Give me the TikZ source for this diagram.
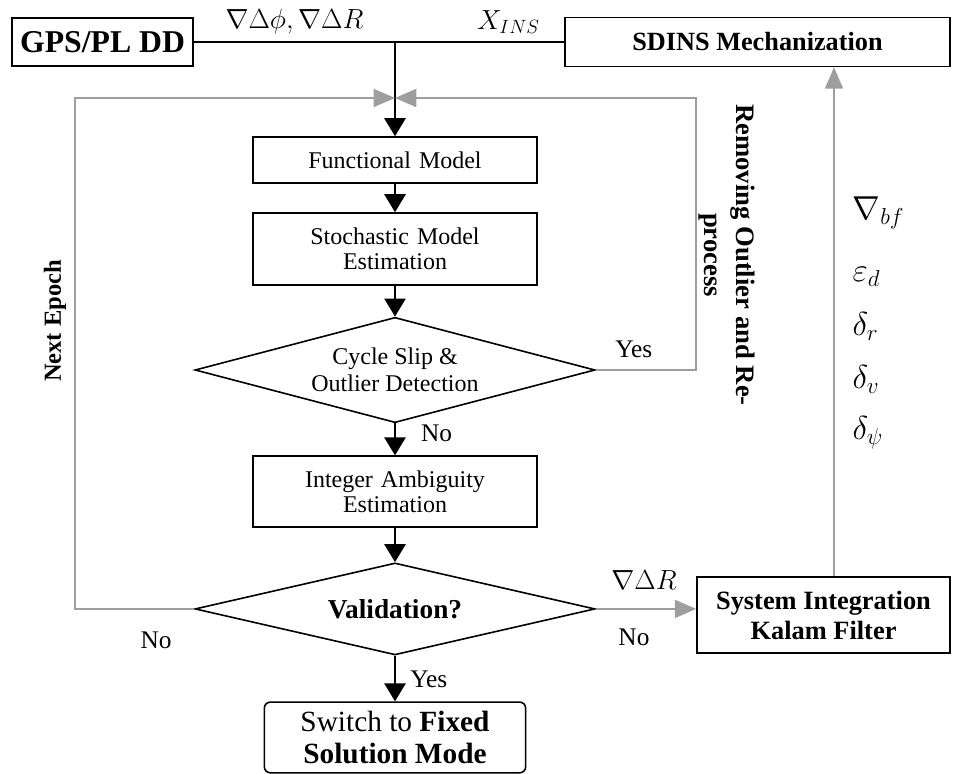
\documentclass[tikz,border=0pt]{standalone}
\usepackage{fontspec}
\setmainfont{Liberation Serif}
\usetikzlibrary{shapes, arrows.meta, positioning}

\definecolor{loopgray}{RGB}{158,158,158}

\tikzset{
	line/.style={draw, line width=1.2pt},
	arr/.style={line, -{Triangle[length=13.5pt,width=16pt]}},
	garr/.style={draw=loopgray, line width=1.3pt, -{Triangle[length=16pt,width=13.5pt]}},
	gline/.style={draw=loopgray, line width=1.3pt},
	block/.style={draw, line width=1.2pt, minimum width=213pt, minimum height=34.5pt,
		text width=200pt, align=center, font=\fontsize{18}{19}\selectfont},
	decision/.style={diamond, draw, line width=1.2pt, aspect=3.8, inner sep=0pt,
		minimum width=300pt, align=center, font=\fontsize{18}{20}\selectfont},
	term/.style={draw, line width=1.2pt, rounded corners=4.5pt, minimum width=196pt,
		minimum height=53pt, align=center, font=\fontsize{22}{24}\selectfont},
	lbl/.style={font=\fontsize{19}{22}\selectfont, inner sep=1pt},
	mlbl/.style={font=\fontsize{20}{24}\selectfont, inner sep=1pt},
	elbl/.style={font=\fontsize{23}{26}\selectfont, inner sep=1pt, anchor=west}
}

\begin{document}
\begin{tikzpicture}[x=0.75pt, y=-0.75pt, node distance=2cm, on grid]
		\useasboundingbox (0,0) rectangle (954,774);
		% main column
		\node[block] (fm) at (395,160) {Functional Model};
		\node[block, minimum height=54pt] (sm) [below=66.75pt of fm] {Stochastic Model\\Estimation};
		\node[decision, minimum height=79pt] (cs) [below=90.75pt of sm] {Cycle Slip \&\\Outlier Detection};
		\node[block, minimum height=53pt] (ia) [below=91.1pt of cs] {Integer Ambiguity\\Estimation};
		\node[decision, minimum height=69pt, font=\fontsize{20.5}{22}\selectfont\bfseries] (val) [below=88.1pt of ia] {Validation?};
		\node[term] (sw) [below=96.4pt of val] {Switch to \textbf{Fixed}\\\textbf{Solution Mode}};
		% side boxes
		\node[draw, line width=1.2pt, minimum width=136pt, minimum height=36pt,
			font=\fontsize{23.8}{26}\selectfont\bfseries] (gps) at (102.5,42) {GPS/PL DD};
		\node[draw, line width=1.2pt, minimum width=288.75pt, minimum height=36.75pt,
			font=\fontsize{19.7}{22}\selectfont\bfseries] (sdins) at (757.5,42) {SDINS Mechanization};
		\node[draw, line width=1.2pt, minimum width=189.75pt, minimum height=57pt, align=center,
			font=\fontsize{19.8}{22.5}\selectfont\bfseries] (sikf) at (823.5,615) {System Integration\\Kalam Filter};
		% loop corners
		\coordinate (jn) at (fm.north |- gps.east);
		\coordinate (nl) at (75,98);
		\coordinate (nr) at (696,98);
		\coordinate (mt) at (fm.north |- nl);
		% black flow
		\path[line] (gps.east) -- node[mlbl, above=4.5pt, midway] {$\nabla\Delta\phi,\nabla\Delta R$} (jn)
			-- node[mlbl, above=4.5pt, pos=0.67] {$X_{INS}$} (sdins.west);
		\draw[arr] (jn) -- (fm.north);
		\draw[arr] (fm) -- (sm);
		\draw[arr] (sm) -- (cs);
		\draw[arr] (cs) -- node[lbl, right=18pt, pos=0.31] {No} (ia);
		\draw[arr] (ia) -- (val);
		\draw[arr] (val) -- node[lbl, right=10pt, pos=0.51] {Yes} (sw);
		% grey loops
		\draw[garr] (val.west) -- node[lbl, below=15.5pt, pos=0.32] {No} (val.west -| nl) -- (nl) -- (mt);
		\draw[garr] (cs.east) -- node[lbl, above=7.5pt, pos=0.38] {Yes} (cs.east -| nr) -- (nr) -- (mt);
		\draw[garr] (val.east) -- node[mlbl, above=13pt, pos=0.48] {$\nabla\Delta R$}
			node[lbl, below=13.5pt, pos=0.38] {No} (val.east -| sikf.west);
		\draw[garr] ([xshift=7.9pt]sikf.north) -- ([xshift=7.9pt]sikf.north |- sdins.south);
		% rotated texts
		\node[rotate=90, font=\fontsize{18.4}{22}\selectfont\bfseries] (ne) at (55,321) {Next Epoch};
		\node[rotate=-90, align=center, font=\fontsize{20}{24}\selectfont\bfseries] (ro) at (727,255)
			{Removing Outlier and Re-\\process};
		% error states
		\node[elbl] (bf) at (851,213) {$\nabla_{bf}$};
		\node[elbl] (ed) at (851,277) {$\varepsilon_{d}$};
		\node[elbl] (dr) at (851,326) {$\delta_{r}$};
		\node[elbl] (dv) at (851,379) {$\delta_{v}$};
		\node[elbl] (dp) at (851,433) {$\delta_{\psi}$};
	\end{tikzpicture}
\end{document}
